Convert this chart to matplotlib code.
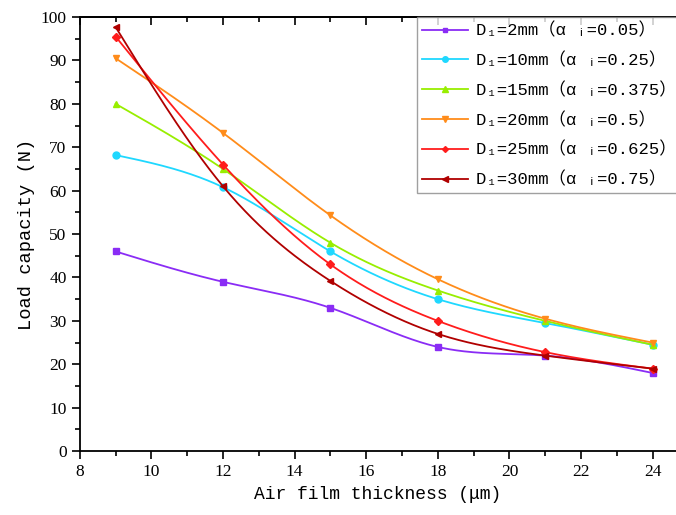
import matplotlib.pyplot as plt
import numpy as np
from matplotlib.ticker import MultipleLocator

# film thickness (um) and load capacity (N) per recess diameter
thickness = [9, 12, 15, 18, 21, 24]
load_d2 = [46.0, 39.0, 33.0, 24.0, 22.0, 18.0]
load_d10 = [68.2, 60.8, 46.0, 35.0, 29.5, 24.5]
load_d15 = [80.0, 65.0, 48.0, 37.0, 30.0, 24.5]
load_d20 = [90.5, 73.3, 54.3, 39.6, 30.5, 25.0]
load_d25 = [95.5, 66.0, 43.0, 30.0, 22.8, 19.0]
load_d30 = [97.7, 61.0, 39.2, 27.0, 22.0, 19.0]

labels = [
    "D₁=2mm（α ᵢ=0.05）",
    "D₁=10mm（α ᵢ=0.25）",
    "D₁=15mm（α ᵢ=0.375）",
    "D₁=20mm（α ᵢ=0.5）",
    "D₁=25mm（α ᵢ=0.625）",
    "D₁=30mm（α ᵢ=0.75）",
]
colors = ["#8a2cf5", "#1fd8ff", "#98ee00", "#ff8c1a", "#ff1c1c", "#b00000"]
markers = ["s", "o", "^", "v", "D", "<"]
marker_sizes = [4, 5, 5, 5, 4, 5]

text_fonts = ["Liberation Mono", "Noto Sans CJK SC", "DejaVu Sans"]
plt.rcParams["font.family"] = text_fonts


def natural_spline(x, y, n=300):
    # natural cubic spline through the points, for a smooth connecting line
    x = np.asarray(x, float)
    y = np.asarray(y, float)
    h = np.diff(x)
    size = len(x)
    a = np.zeros((size, size))
    b = np.zeros(size)
    a[0, 0] = a[-1, -1] = 1
    for i in range(1, size - 1):
        a[i, i - 1] = h[i - 1]
        a[i, i] = 2 * (h[i - 1] + h[i])
        a[i, i + 1] = h[i]
        b[i] = 6 * ((y[i + 1] - y[i]) / h[i] - (y[i] - y[i - 1]) / h[i - 1])
    m = np.linalg.solve(a, b)
    xs = np.linspace(x[0], x[-1], n)
    idx = np.clip(np.searchsorted(x, xs) - 1, 0, size - 2)
    t0 = x[idx + 1] - xs
    t1 = xs - x[idx]
    hi = h[idx]
    ys = (m[idx] * t0**3 / (6 * hi) + m[idx + 1] * t1**3 / (6 * hi)
          + (y[idx] / hi - m[idx] * hi / 6) * t0
          + (y[idx + 1] / hi - m[idx + 1] * hi / 6) * t1)
    return xs, ys


fig = plt.figure(figsize=(6.76, 5.15), dpi=100)
ax = fig.add_axes([0.118, 0.124, 0.882, 0.843])

series = [load_d2, load_d10, load_d15, load_d20, load_d25, load_d30]
for vals, lab, col, mk, ms in zip(series, labels, colors, markers, marker_sizes):
    xs, ys = natural_spline(thickness, vals)
    ax.plot(xs, ys, color=col, lw=1.3)
    ax.plot(thickness, vals, ls="none", marker=mk, ms=ms, color=col)
    ax.plot([], [], color=col, lw=1.3, marker=mk, ms=ms - 1, label=lab)

ax.set_xlim(8, 24.65)
ax.set_ylim(0, 100)
ax.xaxis.set_major_locator(MultipleLocator(2))
ax.xaxis.set_minor_locator(MultipleLocator(1))
ax.yaxis.set_major_locator(MultipleLocator(10))
ax.yaxis.set_minor_locator(MultipleLocator(5))

ax.spines["right"].set_visible(False)
for s in ["left", "bottom", "top"]:
    ax.spines[s].set_linewidth(1.3)
ax.tick_params(which="both", direction="out", width=1.2, top=False)
ax.tick_params(which="major", length=6)
ax.tick_params(which="minor", length=3.5)
ax.tick_params(labelsize=12.5)
for lab in ax.get_xticklabels() + ax.get_yticklabels():
    lab.set_family("Liberation Serif")

# inward ticks along the top edge
top = ax.secondary_xaxis("top")
top.xaxis.set_major_locator(MultipleLocator(2))
top.xaxis.set_minor_locator(MultipleLocator(1))
top.tick_params(which="both", direction="in", width=1.2, labeltop=False)
top.tick_params(which="major", length=6)
top.tick_params(which="minor", length=3.5)
top.spines["top"].set_linewidth(1.3)

ax.set_xlabel("Air film thickness (μm)", fontsize=13, labelpad=4)
ax.set_ylabel("Load capacity (N)", fontsize=13.5, labelpad=4)

leg = ax.legend(loc="upper left", bbox_to_anchor=(0.565, 1.0), fontsize=12.4,
                frameon=True, fancybox=False, handlelength=2.7,
                handletextpad=0.45, borderaxespad=0, borderpad=0.3,
                labelspacing=0.78)
leg.get_frame().set_edgecolor("#888888")
leg.get_frame().set_linewidth(1.0)

fig.savefig("out.png", dpi=100)
